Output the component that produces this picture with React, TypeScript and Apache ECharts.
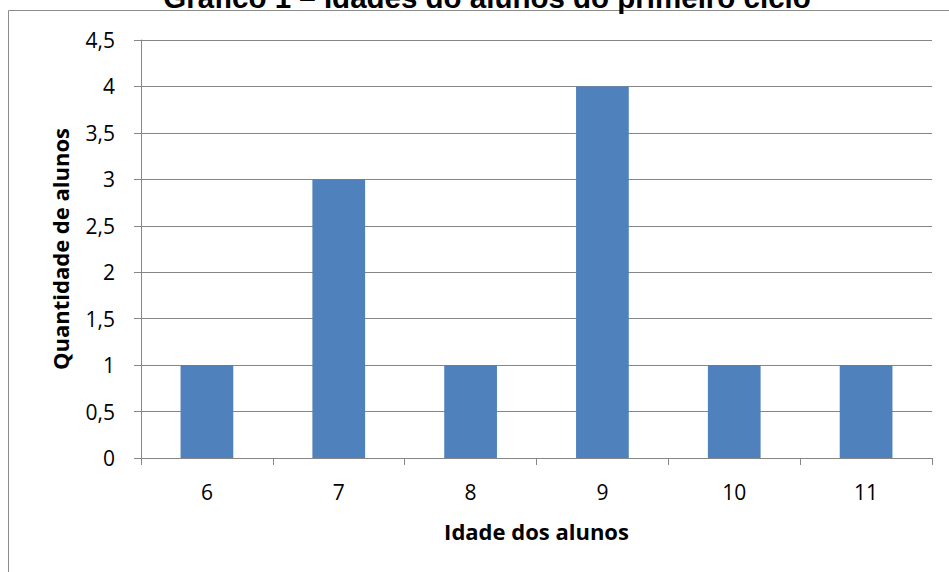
import React, { useEffect, useRef } from "react";
import * as echarts from "echarts";

// Ages of first-cycle pupils and how many pupils have each age
const ages: string[] = ["6", "7", "8", "9", "10", "11"];
const pupilCounts: number[] = [1, 3, 1, 4, 1, 1];

const titleText = "Gráfico 1 – Idades do alunos do primeiro ciclo";
const xAxisTitle = "Idade dos alunos";
const yAxisTitle = "Quantidade de alunos";

const labelFont = "'Open Sans', 'Noto Sans', sans-serif";
const titleFont = "'Liberation Sans', Arial, sans-serif";

export default function App() {
  const ref = useRef<HTMLDivElement>(null);

  useEffect(() => {
    if (!ref.current) return;
    const chart = echarts.init(ref.current, undefined, { renderer: "svg" });
    chart.setOption({
      animation: false,
      backgroundColor: "#ffffff",
      graphic: [
        {
          type: "rect",
          shape: { x: 8.5, y: 10.5, width: 1000, height: 700 },
          style: { fill: "none", stroke: "#8c8c8c", lineWidth: 1 },
          silent: true,
          z: -1,
        },
        {
          type: "text",
          x: 487,
          y: 12,
          style: {
            text: titleText,
            fontFamily: titleFont,
            fontWeight: "bold",
            fontSize: 29.5,
            fill: "#000000",
            align: "center",
            verticalAlign: "bottom",
          },
          silent: true,
        },
      ],
      grid: { left: 141, right: 17, top: 40, bottom: 114, containLabel: false },
      xAxis: {
        type: "category",
        data: ages,
        name: xAxisTitle,
        nameLocation: "middle",
        nameGap: 62,
        nameTextStyle: { fontFamily: labelFont, fontWeight: "bold", fontSize: 22, color: "#000" },
        axisLine: { lineStyle: { color: "#868686", width: 1 } },
        axisTick: { show: true, length: 7, alignWithLabel: false, lineStyle: { color: "#868686" } },
        axisLabel: { fontFamily: labelFont, fontSize: 21, color: "#000", margin: 23 },
        splitLine: { show: false },
      },
      yAxis: {
        type: "value",
        min: 0,
        max: 4.5,
        interval: 0.5,
        name: yAxisTitle,
        nameLocation: "middle",
        nameGap: 70,
        nameRotate: 90,
        nameTextStyle: { fontFamily: labelFont, fontWeight: "bold", fontSize: 22, color: "#000" },
        axisLine: { show: true, lineStyle: { color: "#868686", width: 1 } },
        axisTick: { show: true, length: 7, lineStyle: { color: "#868686" } },
        axisLabel: {
          fontFamily: labelFont,
          fontSize: 21,
          color: "#000",
          margin: 26,
          formatter: (v: number) => String(v).replace(".", ","),
        },
        splitLine: { show: true, lineStyle: { color: "#868686", width: 1 } },
      },
      series: [
        {
          type: "bar",
          data: pupilCounts,
          barCategoryGap: "60%",
          itemStyle: { color: "#4F81BD" },
        },
      ],
    });
    return () => chart.dispose();
  }, []);

  return (
    <div
      ref={ref}
      style={{ position: "fixed", left: 0, top: 0, width: 949, height: 572 }}
    />
  );
}
